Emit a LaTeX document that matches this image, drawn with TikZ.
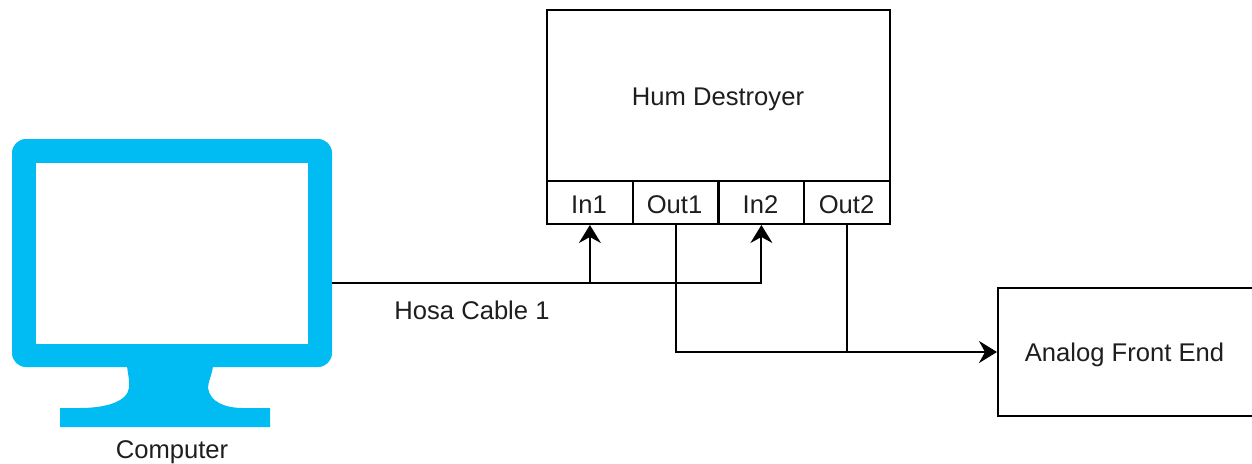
\documentclass[tikz,border=0pt]{standalone}
\usepackage{fontspec}
\setmainfont{Liberation Sans}
\usetikzlibrary{arrows.meta}
\definecolor{monitorblue}{RGB}{0,188,242}
\definecolor{inktext}{RGB}{30,30,30}
\tikzset{
  x=1pt,y=-1pt,
  lbl/.style={font=\fontsize{25.6}{30}\selectfont,text=inktext,inner sep=0pt,anchor=center},
  boxed/.style={draw=black,line width=2pt,fill=white,inner sep=0pt,minimum width=#1,minimum height=43pt},
  conn/.style={draw=black,line width=2pt},
  arr/.style={conn,-{Stealth[length=18pt,width=22pt,inset=6pt]}}
}
\begin{document}
\begin{tikzpicture}
\useasboundingbox (0,0) rectangle (1252,463);
% monitor
\fill[monitorblue,rounded corners=14pt]
  (12,139) rectangle (332,367);
\fill[monitorblue]
  (127,366) .. controls (128,375) and (130,382) .. (129,388)
  .. controls (127,402) and (105,408) .. (80,408)
  -- (60,408) -- (60,427) -- (270,427) -- (270,408) -- (243,408)
  .. controls (225,408) and (210,402) .. (208,388)
  .. controls (208,382) and (212,375) .. (213,366) -- cycle;
\node[fill=white,inner sep=0pt,minimum width=272.5pt,minimum height=181pt] (screen) at (171.75,253.5) {};
\coordinate (monitor) at (332,282.5);
\node[lbl,text depth=0pt] (computer) at (172,449.5) {Computer};
% hum destroyer
\node[draw=black,line width=2pt,fill=white,minimum width=343pt,minimum height=171pt,inner sep=0pt] (hum) at (718.5,95.5) {};
\node[lbl] (humlabel) at (718,99.5) {Hum Destroyer};
\node[boxed=85.75pt] (in1) at (589.9,202.5) {};
\node[boxed=85.75pt] (out1) at (675.6,202.5) {};
\node[boxed=85.75pt] (in2) at (761.4,202.5) {};
\node[boxed=85.75pt] (out2) at (847.1,202.5) {};
\node[lbl] (in1label) at (589,204.5) {In1};
\node[lbl] (out1label) at (674.5,204.5) {Out1};
\node[lbl] (in2label) at (760.5,204.5) {In2};
\node[lbl] (out2label) at (846.5,204.5) {Out2};
% front end
\node[draw=black,line width=2pt,fill=white,minimum width=255pt,minimum height=128.5pt,inner sep=0pt] (afe) at (1125.5,352) {};
\node[lbl] (afelabel) at (1124.5,355) {Analog Front End};
% connectors
\coordinate (j1) at (in1.south |- monitor);
\coordinate (j2) at (out2.south |- afe.west);
\draw[conn] (monitor) -- (j1);
\draw[arr] (j1) -- (in1.south);
\draw[arr] (j1) -| (in2.south);
\draw[arr] (out1.south) |- (afe.west);
\draw[conn] (out2.south) -- (j2);
\node[lbl] (hosa) at (472,310.5) {Hosa Cable 1};
\end{tikzpicture}
\end{document}
